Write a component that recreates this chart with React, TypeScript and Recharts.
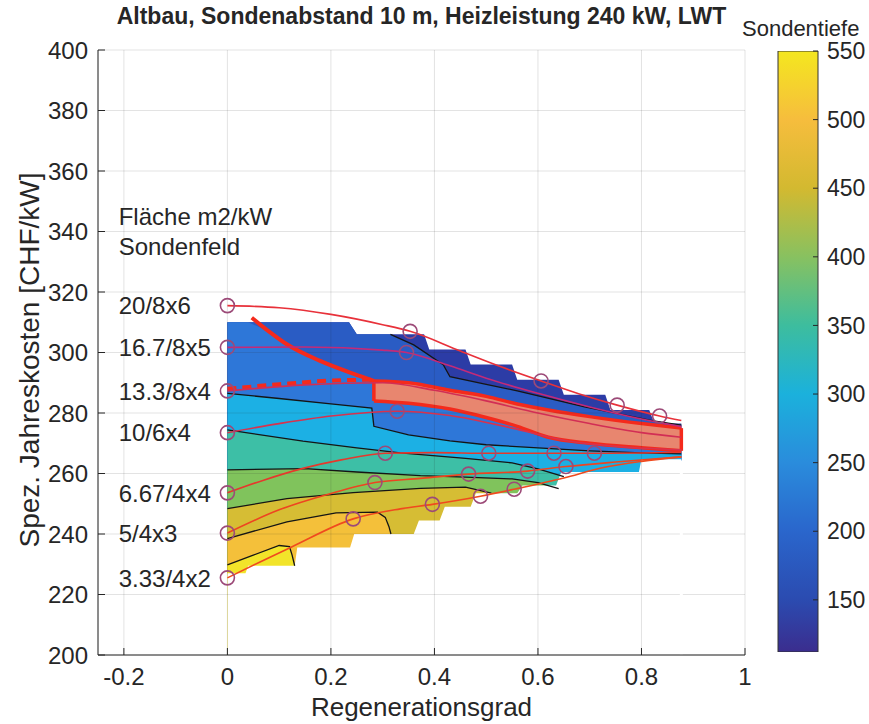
import React from 'react';
import {
  ComposedChart, Area, Line, Scatter, XAxis, YAxis, CartesianGrid, BarChart, Bar,
} from 'recharts';

type Pair = [number, number];

const FONT = '"Liberation Sans", Arial, Helvetica, sans-serif';
const INK = '#262626';

// axes
const xTicks = [-0.2, 0, 0.2, 0.4, 0.6, 0.8, 1];
const yTicks = [200, 220, 240, 260, 280, 300, 320, 340, 360, 380, 400];
const depthTicks = [150, 200, 250, 300, 350, 400, 450, 500, 550];
const depthRange: Pair = [112, 550];

// outline of the evaluated field (Regenerationsgrad, CHF/kW)
const topEdge: Pair[] = [
  [0, 310], [0.235, 310], [0.25, 306], [0.38, 306], [0.39, 301], [0.46, 301], [0.47, 296],
  [0.55, 296], [0.56, 291], [0.64, 291], [0.65, 286], [0.73, 286], [0.74, 281], [0.815, 281],
  [0.825, 276.5], [0.877, 276.5],
];
const bottomEdge: Pair[] = [
  [0, 227], [0.035, 227], [0.04, 229.5], [0.13, 229.5], [0.135, 235.5], [0.237, 235.5],
  [0.245, 240], [0.36, 240], [0.37, 244.5], [0.41, 244.5], [0.42, 249], [0.47, 249],
  [0.48, 253.5], [0.56, 253.5], [0.57, 256], [0.635, 256], [0.645, 260.5], [0.795, 260.5],
  [0.8, 264.7], [0.877, 264.7],
];

// iso-depth lines (Sondentiefe), shallow at the top, deep at the bottom
const iso150: Pair[] = [
  [0, 310], [0.235, 310], [0.25, 306], [0.315, 306], [0.36, 302.5], [0.417, 296], [0.43, 292],
  [0.5, 289.5], [0.56, 287.3], [0.69, 282], [0.82, 277.5], [0.877, 276],
];
const iso200: Pair[] = [
  [0, 310], [0.04, 310], [0.08, 307], [0.114, 302.8], [0.178, 297.3], [0.243, 293], [0.283, 290.6],
  [0.35, 290], [0.43, 287.5], [0.5, 285.5], [0.56, 283], [0.62, 280.5], [0.7, 278], [0.8, 276],
  [0.877, 275],
];
const iso250: Pair[] = [
  [0, 286.5], [0.1, 284.8], [0.2, 283], [0.279, 281.6], [0.283, 275.6], [0.35, 272.8],
  [0.43, 270.8], [0.5, 269.5], [0.6, 268.5], [0.7, 267.5], [0.8, 266.8], [0.877, 266.5],
];
const iso300: Pair[] = [
  [0, 274.4], [0.146, 270.7], [0.25, 268.5], [0.334, 266.8], [0.46, 265], [0.55, 263.5],
  [0.6, 261.5], [0.65, 259], [0.877, 259],
];
const iso350: Pair[] = [
  [0, 261.2], [0.15, 261.6], [0.25, 260.5], [0.373, 259.3], [0.46, 258.8], [0.55, 258.2],
  [0.6, 257], [0.64, 255], [0.877, 255],
];
const iso400: Pair[] = [
  [0, 248.4], [0.115, 251.7], [0.243, 253.7], [0.373, 255.1], [0.46, 255.5], [0.51, 253.5],
  [0.53, 250], [0.877, 250],
];
const iso450: Pair[] = [
  [0, 238.5], [0.115, 244], [0.21, 247], [0.29, 247.2], [0.305, 245.5], [0.312, 242.5], [0.316, 240],
];
const iso500: Pair[] = [
  [0, 229.8], [0.05, 233], [0.1, 236.2], [0.12, 235.8], [0.125, 233], [0.13, 229.5],
];

const bandColors = [
  '#2c3ca6', '#2a5cc4', '#2e77d8', '#1cb0e4', '#3dbfa6', '#80c35c', '#d6bd34', '#f4c03a', '#f2e42a',
];

// highlighted optimum band
const bandX = [0.283, 0.35, 0.43, 0.5, 0.56, 0.62, 0.7, 0.8, 0.877];
const bandLow = [284, 283.2, 281.3, 278.5, 275.6, 272, 270, 268.5, 267.5];
const bandHigh = [290.6, 290, 287.5, 285.5, 283, 281, 278.8, 276.5, 275];
const ridgeLine: Pair[] = [
  [0.047, 311.5], [0.08, 307], [0.114, 302.8], [0.178, 297.3], [0.243, 293], [0.283, 290.6],
];
const ridgeDashed: Pair[] = [[0, 288], [0.1, 289.5], [0.2, 290.7], [0.283, 291]];

// cost curves per field (Fläche m2/kW / Sondenfeld)
const fieldLabels = ['20/8x6', '16.7/8x5', '13.3/8x4', '10/6x4', '6.67/4x4', '5/4x3', '3.33/4x2'];
const curve20: Pair[] = [
  [0, 315.5], [0.1, 314.8], [0.2, 312.6], [0.3, 309.2], [0.353, 307], [0.45, 300.5], [0.53, 295.2],
  [0.606, 290.6], [0.68, 286.3], [0.753, 282.6], [0.835, 279], [0.877, 277.5],
];
const curve167: Pair[] = [
  [0, 301.7], [0.15, 301.8], [0.3, 300.8], [0.346, 300], [0.43, 295.6], [0.5, 291.5], [0.6, 286.5],
  [0.7, 282], [0.8, 278], [0.877, 275.5],
];
const curve133: Pair[] = [
  [0, 287.3], [0.15, 289.3], [0.3, 290], [0.4, 287.5], [0.5, 284], [0.6, 280], [0.7, 276.5],
  [0.8, 273.5], [0.877, 272],
];
const curve10: Pair[] = [
  [0, 273.5], [0.1, 276.5], [0.2, 279], [0.328, 280.6], [0.43, 279.2], [0.55, 275], [0.65, 271],
  [0.75, 269], [0.877, 267.8],
];
const curve667: Pair[] = [
  [0, 253.6], [0.07, 257.8], [0.146, 261.7], [0.22, 264.5], [0.305, 266.7], [0.4, 266.9],
  [0.505, 266.7], [0.631, 266.7], [0.709, 266.7], [0.8, 266.8], [0.877, 267],
];
const curve5: Pair[] = [
  [0, 240.3], [0.1, 248], [0.2, 253.4], [0.285, 257], [0.373, 258.4], [0.466, 259.8], [0.58, 260.8],
  [0.654, 262.3], [0.75, 263.8], [0.877, 265.5],
];
const curve333: Pair[] = [
  [0, 225.5], [0.06, 230.5], [0.125, 235.8], [0.243, 245], [0.334, 248.3], [0.396, 249.8],
  [0.489, 252.5], [0.554, 254.8], [0.65, 258.5], [0.722, 261.8], [0.8, 264], [0.877, 265.5],
];
const curveColors = ['#e8313a', '#c42a78', '#d22e55', '#d8324e', '#e6382c', '#ee4420', '#f04a1e'];

// marked points on the curves
const rings: Pair[] = [
  [0, 315.5], [0.353, 307], [0.606, 290.6], [0.753, 282.6], [0.835, 279],
  [0, 301.7], [0.346, 300],
  [0, 287.3],
  [0, 273.5], [0.328, 280.6],
  [0, 253.6], [0.305, 266.7], [0.505, 266.7], [0.631, 266.7], [0.709, 266.7],
  [0, 240.3], [0.285, 257], [0.466, 259.8], [0.58, 260.8], [0.654, 262.3],
  [0, 225.5], [0.243, 245], [0.396, 249.8], [0.489, 252.5], [0.554, 254.8],
];

const headerLabels = ['Fläche m2/kW', 'Sondenfeld'];
const headerY = [345, 335];
const labelX = -0.21;

const colorbarStops = [
  { depth: 550, color: '#f4e71f' }, { depth: 500, color: '#f6bd3d' }, { depth: 450, color: '#d3b930' },
  { depth: 400, color: '#88c160' }, { depth: 350, color: '#3dbd9e' }, { depth: 300, color: '#1bb1dc' },
  { depth: 250, color: '#2a8cdc' }, { depth: 200, color: '#2a66cc' }, { depth: 150, color: '#2b4bb0' },
  { depth: 112, color: '#3b2d8e' },
];
const colorbarData = [{ name: 'Sondentiefe', range: depthRange }];

const toPts = (a: Pair[]) => a.map(([x, y]) => ({ x, y }));

const fills: [Pair[], string][] = [
  [topEdge, bandColors[0]], [iso150, bandColors[1]], [iso200, bandColors[2]],
  [iso250, bandColors[3]], [iso300, bandColors[4]], [iso350, bandColors[5]],
  [iso400, bandColors[6]], [iso450, bandColors[7]], [iso500, bandColors[8]],
];
const blackLines: Pair[][] = [
  iso150.slice(3), iso250, iso300.slice(0, 8), iso350.slice(0, 8), iso400.slice(0, 6), iso450, iso500,
];
const curves = [curve20, curve167, curve133, curve10, curve667, curve5, curve333];
const bandRows = bandX.map((x, i) => ({ x, range: [bandLow[i], bandHigh[i]] }));
const bandEnds: Pair[][] = [
  [[bandX[0], bandLow[0]], [bandX[0], bandHigh[0]]],
  [[bandX[bandX.length - 1], bandLow[bandLow.length - 1]], [bandX[bandX.length - 1], bandHigh[bandHigh.length - 1]]],
];
// right-hand end of the field below the lowest edge, painted white to hide seams
const lastBottom = bottomEdge[bottomEdge.length - 1];
const maskSeam: Pair[] = [[lastBottom[0], 200], [lastBottom[0], lastBottom[1] - 0.4]];
const labelRows = [
  ...fieldLabels.map((text, i) => ({ x: labelX, y: curves[i][0][1], text })),
  ...headerLabels.map((text, i) => ({ x: labelX, y: headerY[i], text })),
];

const Ring = (p: any) => (
  <circle cx={p.cx} cy={p.cy} r={7} fill="none" stroke="#9c4a78" strokeWidth={1.6} />
);
const LabelText = (p: any) => (
  <text x={p.cx} y={p.cy} dy="0.36em" fontSize={24} fill={INK} fontFamily={FONT}>{p.payload.text}</text>
);

const tickStyle = { fontSize: 24, fill: INK, fontFamily: FONT };

export default function App() {
  return (
    <div style={{ position: 'absolute', left: 0, top: 0, width: 869, height: 724, background: '#fff', fontFamily: FONT, color: INK }}>
      <ComposedChart width={869} height={724} margin={{ top: 50, right: 124, bottom: 0, left: 0 }}>
        <XAxis type="number" dataKey="x" domain={[-0.25, 1]} ticks={xTicks} allowDataOverflow
          height={69} tickSize={-7} tickMargin={20} tick={tickStyle} stroke={INK} />
        <XAxis xAxisId="top" orientation="top" type="number" dataKey="x" domain={[-0.25, 1]} ticks={xTicks}
          allowDataOverflow height={0} tickSize={-7} tick={false} stroke={INK} />
        <YAxis type="number" dataKey="y" domain={[200, 400]} ticks={yTicks} allowDataOverflow
          width={98} tickSize={-7} tickMargin={17} tick={tickStyle} stroke={INK} />
        <YAxis yAxisId="right" orientation="right" type="number" dataKey="y" domain={[200, 400]} ticks={yTicks}
          allowDataOverflow width={0} tickSize={-7} tick={false} stroke={INK} />

        {fills.map(([line, color], i) => (
          <Area key={`fill${i}`} data={toPts(line)} dataKey="y" type="linear" baseValue={200}
            fill={color} fillOpacity={1} stroke="none" isAnimationActive={false} />
        ))}
        <Area data={toPts(bottomEdge)} dataKey="y" type="linear" baseValue={200}
          fill="#ffffff" fillOpacity={1} stroke="none" isAnimationActive={false} />
        <Line data={toPts(maskSeam)} dataKey="y" type="linear" stroke="#ffffff" strokeWidth={3}
          dot={false} activeDot={false} isAnimationActive={false} />

        {blackLines.map((line, i) => (
          <Line key={`iso${i}`} data={toPts(line)} dataKey="y" type="linear" stroke="#151515"
            strokeWidth={1.3} dot={false} activeDot={false} isAnimationActive={false} />
        ))}

        <Area data={bandRows} dataKey="range" type="monotone" fill="#e8866f" fillOpacity={1}
          stroke="#f42a1c" strokeWidth={3.5} isAnimationActive={false} />
        {bandEnds.map((line, i) => (
          <Line key={`end${i}`} data={toPts(line)} dataKey="y" type="linear" stroke="#f42a1c"
            strokeWidth={3.5} dot={false} activeDot={false} isAnimationActive={false} />
        ))}
        <Line data={toPts(ridgeLine)} dataKey="y" type="monotone" stroke="#f42a1c" strokeWidth={4}
          dot={false} activeDot={false} isAnimationActive={false} />
        <Line data={toPts(ridgeDashed)} dataKey="y" type="monotone" stroke="#f42a1c" strokeWidth={4}
          strokeDasharray="9 6" dot={false} activeDot={false} isAnimationActive={false} />

        <CartesianGrid stroke="#262626" strokeOpacity={0.13} zIndex={150} />

        {curves.map((c, i) => (
          <Line key={`curve${i}`} data={toPts(c)} dataKey="y" type="monotone" stroke={curveColors[i]}
            strokeWidth={1.6} dot={false} activeDot={false} isAnimationActive={false} />
        ))}
        <Scatter data={toPts(rings)} dataKey="y" shape={Ring} isAnimationActive={false} />
        <Scatter data={labelRows} dataKey="y" shape={LabelText} isAnimationActive={false} />
      </ComposedChart>

      <div style={{ position: 'absolute', left: 98, top: 3, width: 647, textAlign: 'center', fontSize: 23, fontWeight: 'bold', whiteSpace: 'nowrap' }}>
        Altbau, Sondenabstand 10 m, Heizleistung 240 kW, LWT
      </div>
      <div style={{ position: 'absolute', left: 98, top: 692, width: 647, textAlign: 'center', fontSize: 26 }}>
        Regenerationsgrad
      </div>
      <div style={{ position: 'absolute', left: -170, top: 344, width: 400, height: 32, lineHeight: '32px', textAlign: 'center', fontSize: 28, transform: 'rotate(-90deg)', whiteSpace: 'nowrap' }}>
        Spez. Jahreskosten [CHF/kW]
      </div>

      <div style={{ position: 'absolute', left: 740, top: 0 }}>
        <BarChart width={129} height={724} data={colorbarData} barCategoryGap={0}
          margin={{ top: 51, right: 0, bottom: 72, left: 38 }}>
          <defs>
            <linearGradient id="parula" x1="0" y1="0" x2="0" y2="1">
              {colorbarStops.map((s) => (
                <stop key={s.depth} offset={(depthRange[1] - s.depth) / (depthRange[1] - depthRange[0])} stopColor={s.color} />
              ))}
            </linearGradient>
          </defs>
          <XAxis dataKey="name" hide />
          <YAxis orientation="right" type="number" domain={depthRange} ticks={depthTicks} allowDataOverflow
            width={51} tickSize={-5} tickMargin={14} axisLine={false} tick={{ ...tickStyle, fontSize: 23 }} stroke={INK} />
          <Bar dataKey="range" fill="url(#parula)" stroke="#333" strokeWidth={1} isAnimationActive={false} />
        </BarChart>
      </div>
      <div style={{ position: 'absolute', left: 742, top: 16, fontSize: 22, whiteSpace: 'nowrap' }}>
        Sondentiefe
      </div>
    </div>
  );
}
